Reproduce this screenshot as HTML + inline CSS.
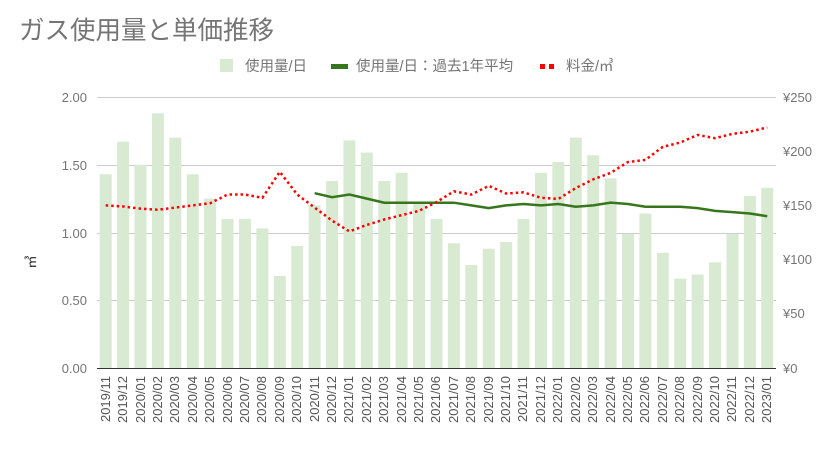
<!DOCTYPE html>
<html><head><meta charset="utf-8"><style>
body{margin:0;background:#fff}
svg{display:block;font-family:"Liberation Sans","Noto Sans CJK JP",sans-serif}
</style></head><body>
<svg id="s" width="836" height="453" viewBox="0 0 836 453">
<rect width="836" height="453" fill="#fff"/>
<text x="19" y="39" font-size="25.5" fill="#757575">ガス使用量と単価推移</text>
<rect x="220" y="59" width="13" height="13" fill="#d9ead3"/>
<text x="245" y="71" font-size="14.5" fill="#757575">使用量/日</text>
<rect x="331" y="64" width="17" height="5" fill="#38761d"/>
<text x="356" y="71" font-size="14.5" fill="#757575">使用量/日：過去1年平均</text>
<rect x="540" y="64" width="5" height="5" fill="#f00"/><rect x="549" y="64" width="5" height="5" fill="#f00"/>
<text x="566" y="71" font-size="14.5" fill="#757575">料金/㎥</text>
<g stroke="#ccc" stroke-width="1">
<line x1="97" x2="776" y1="97.5" y2="97.5"/><line x1="97" x2="776" y1="165.5" y2="165.5"/>
<line x1="97" x2="776" y1="233.5" y2="233.5"/><line x1="97" x2="776" y1="300.5" y2="300.5"/>
</g>
<g font-size="13" fill="#757575" text-anchor="end">
<text x="87" y="102">2.00</text><text x="87" y="170">1.50</text><text x="87" y="238">1.00</text><text x="87" y="305">0.50</text><text x="87" y="373">0.00</text>
</g>
<g font-size="13" fill="#757575">
<text x="783" y="102">¥250</text><text x="783" y="156">¥200</text><text x="783" y="210">¥150</text><text x="783" y="264">¥100</text><text x="783" y="318">¥50</text><text x="783" y="373">¥0</text>
</g>
<text transform="translate(36,262) rotate(-90)" font-size="13" fill="#222" text-anchor="middle">㎥</text>
<g id="bars" fill="#d9ead3"></g>
<line x1="97" x2="776" y1="368.5" y2="368.5" stroke="#333"/>
<polyline id="avg" fill="none" stroke="#38761d" stroke-width="2.5"/>
<polyline id="price" fill="none" stroke="#f00" stroke-width="2.5" stroke-dasharray="2.5,3"/>
<g font-size="13" fill="#555" text-anchor="end">
<text transform="translate(110,376) rotate(-90)">2019/11</text>
<text transform="translate(127,376) rotate(-90)">2019/12</text>
<text transform="translate(145,376) rotate(-90)">2020/01</text>
<text transform="translate(162,376) rotate(-90)">2020/02</text>
<text transform="translate(179,376) rotate(-90)">2020/03</text>
<text transform="translate(197,376) rotate(-90)">2020/04</text>
<text transform="translate(214,376) rotate(-90)">2020/05</text>
<text transform="translate(232,376) rotate(-90)">2020/06</text>
<text transform="translate(249,376) rotate(-90)">2020/07</text>
<text transform="translate(266,376) rotate(-90)">2020/08</text>
<text transform="translate(284,376) rotate(-90)">2020/09</text>
<text transform="translate(301,376) rotate(-90)">2020/10</text>
<text transform="translate(319,376) rotate(-90)">2020/11</text>
<text transform="translate(336,376) rotate(-90)">2020/12</text>
<text transform="translate(353,376) rotate(-90)">2021/01</text>
<text transform="translate(371,376) rotate(-90)">2021/02</text>
<text transform="translate(388,376) rotate(-90)">2021/03</text>
<text transform="translate(406,376) rotate(-90)">2021/04</text>
<text transform="translate(423,376) rotate(-90)">2021/05</text>
<text transform="translate(440,376) rotate(-90)">2021/06</text>
<text transform="translate(458,376) rotate(-90)">2021/07</text>
<text transform="translate(475,376) rotate(-90)">2021/08</text>
<text transform="translate(493,376) rotate(-90)">2021/09</text>
<text transform="translate(510,376) rotate(-90)">2021/10</text>
<text transform="translate(527,376) rotate(-90)">2021/11</text>
<text transform="translate(545,376) rotate(-90)">2021/12</text>
<text transform="translate(562,376) rotate(-90)">2022/01</text>
<text transform="translate(580,376) rotate(-90)">2022/02</text>
<text transform="translate(597,376) rotate(-90)">2022/03</text>
<text transform="translate(615,376) rotate(-90)">2022/04</text>
<text transform="translate(632,376) rotate(-90)">2022/05</text>
<text transform="translate(649,376) rotate(-90)">2022/06</text>
<text transform="translate(667,376) rotate(-90)">2022/07</text>
<text transform="translate(684,376) rotate(-90)">2022/08</text>
<text transform="translate(702,376) rotate(-90)">2022/09</text>
<text transform="translate(719,376) rotate(-90)">2022/10</text>
<text transform="translate(736,376) rotate(-90)">2022/11</text>
<text transform="translate(754,376) rotate(-90)">2022/12</text>
<text transform="translate(771,376) rotate(-90)">2023/01</text>
</g>
</svg>
<script>
var b=[1.43,1.67,1.50,1.88,1.70,1.43,1.25,1.10,1.10,1.03,0.68,0.90,1.20,1.38,1.68,1.59,1.38,1.44,1.22,1.10,0.92,0.76,0.88,0.93,1.10,1.44,1.52,1.70,1.57,1.40,0.99,1.14,0.85,0.66,0.69,0.78,0.99,1.27,1.33];
var a=[1.29,1.26,1.28,1.25,1.22,1.22,1.22,1.22,1.22,1.20,1.18,1.20,1.21,1.20,1.21,1.19,1.20,1.22,1.21,1.19,1.19,1.19,1.18,1.16,1.15,1.14,1.12];
var p=[150,149,147,146,148,150,152,160,160,157,181,160,148,136,126,132,137,141,145,153,163,160,168,161,162,157,156,166,174,180,190,192,204,208,215,212,216,218,222];
var ns="http://www.w3.org/2000/svg",g=document.getElementById("bars");
function X(i){return 105.7+17.41*i}
b.forEach(function(v,i){var r=document.createElementNS(ns,"rect");var h=v*135.5;r.setAttribute("x",X(i)-6);r.setAttribute("width",12);r.setAttribute("y",368-h);r.setAttribute("height",h);g.appendChild(r);});
document.getElementById("avg").setAttribute("points",a.map(function(v,i){return X(i+12)+","+(368-v*135.5)}).join(" "));
document.getElementById("price").setAttribute("points",p.map(function(v,i){return X(i)+","+(368-v*1.084)}).join(" "));
</script>
</body></html>
